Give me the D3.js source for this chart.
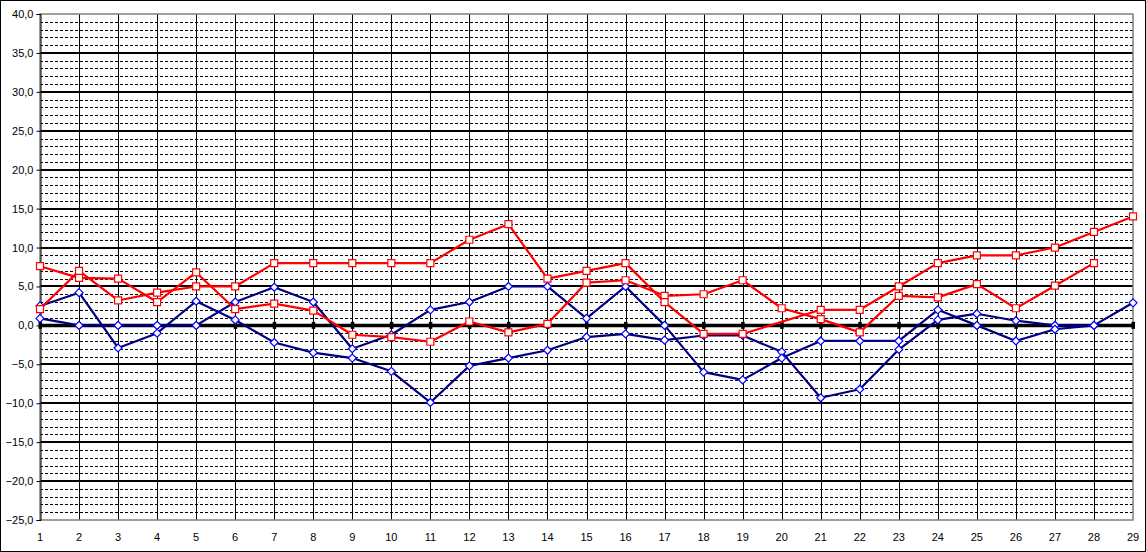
<!DOCTYPE html>
<html>
<head>
<meta charset="utf-8">
<script src="https://cdn.jsdelivr.net/npm/d3@7"></script>
<style>
  body { margin: 0; background: #fff; }
  text { font-family: "Liberation Sans", Arial, sans-serif; font-size: 11px; fill: #000; }
</style>
</head>
<body>
<div id="chart"></div>
<script>
// jours du mois
var jours = d3.range(1, 30);

// valeurs (null = pas de donnée)
var rougeHaut = [2.1, 7.0, 3.2, 4.2, 5.0, 5.0, 8.0, 8.0, 8.0, 8.0, 8.0, 11.0, 13.0, 6.0, 7.0,
                 8.0, 3.0, -1.1, -1.1, null, 2.0, 2.0, 5.0, 8.0, 9.0, 9.0, 10.0, 12.0, 14.0];
var rougeBas = [7.6, 6.1, 6.0, 3.0, 6.8, 2.1, 2.8, 1.9, -1.2, -1.5, -2.1, 0.5, -0.9, 0.2, 5.5,
                5.8, 3.8, 4.0, 5.8, 2.2, 0.8, -0.9, 3.8, 3.6, 5.3, 2.2, 5.1, 8.0, null];
var bleuA = [2.5, 4.2, -2.9, -1.0, 3.1, 0.7, -2.2, -3.5, -4.2, -5.9, -9.9, -5.2, -4.2, -3.2, -1.5,
             -1.1, -1.9, -1.3, -1.3, -3.4, -9.3, -8.2, -3.1, 0.7, 1.5, 0.6, 0.0, 0.0, null];
var bleuB = [0.9, 0.0, 0.0, 0.0, 0.0, 3.0, 4.9, 3.0, -3.0, -1.2, 2.0, 3.0, 5.0, 5.0, 0.9,
             5.0, 0.0, -6.0, -7.0, -4.2, -2.0, -2.0, -2.0, 2.0, 0.0, -2.0, -0.5, 0.0, 2.9];

var yMin = -25, yMax = 40;
var yTicks = d3.range(yMin, yMax + 1, 5);

var width = 1146,
    height = 552;
var zGauche = 40, zDroite = 1133, zHaut = 14, zBas = 520;

var svg = d3.select('#chart')
            .append('svg')
            .attr('width', width)
            .attr('height', height);

// cadre extérieur
svg.append('rect')
   .attr('x', 0.5).attr('y', 0.5)
   .attr('width', width - 1).attr('height', height - 1)
   .attr('fill', '#fff')
   .attr('stroke', '#000');

var x = d3.scaleLinear().domain([1, 29]).range([zGauche, zDroite]);
var y = d3.scaleLinear().domain([yMin, yMax]).range([zBas, zHaut]);

var grille = svg.append('g');

// lignes secondaires pointillées (chaque degré)
grille.selectAll('.mineur')
      .data(d3.range(yMin + 1, yMax).filter(function(v) { return v % 5 != 0; }))
      .enter().append('line')
      .attr('x1', zGauche).attr('x2', zDroite)
      .attr('y1', function(d) { return Math.round(y(d)) + 0.5; })
      .attr('y2', function(d) { return Math.round(y(d)) + 0.5; })
      .attr('stroke', '#000')
      .attr('stroke-width', 1)
      .attr('stroke-dasharray', '3,2');

// verticales
grille.selectAll('.vert')
      .data(jours.slice(1, -1))
      .enter().append('line')
      .attr('x1', function(d) { return Math.round(x(d)) + 0.5; })
      .attr('x2', function(d) { return Math.round(x(d)) + 0.5; })
      .attr('y1', zHaut).attr('y2', zBas)
      .attr('stroke', '#000')
      .attr('stroke-width', 1);

// lignes principales (tous les 5)
grille.selectAll('.majeur')
      .data(yTicks.filter(function(v) { return v != yMin && v != yMax && v != 0; }))
      .enter().append('line')
      .attr('x1', zGauche).attr('x2', zDroite)
      .attr('y1', function(d) { return Math.round(y(d)); })
      .attr('y2', function(d) { return Math.round(y(d)); })
      .attr('stroke', '#000')
      .attr('stroke-width', 2);

// bord de la zone de traçage
svg.append('rect')
   .attr('x', zGauche).attr('y', zHaut)
   .attr('width', zDroite - zGauche).attr('height', zBas - zHaut)
   .attr('fill', 'none')
   .attr('stroke', '#808080')
   .attr('stroke-width', 1.5);

// axe des ordonnées
var axeY = d3.axisLeft(y)
             .tickValues(yTicks)
             .tickSize(4)
             .tickPadding(3)
             .tickFormat(function(d) { return d3.format('.1f')(d).replace('.', ','); });

svg.append('g')
   .attr('transform', 'translate(' + (zGauche + 0.5) + ',0)')
   .call(axeY)
   .call(function(g) {
     g.selectAll('path, line').attr('stroke', '#000');
     g.selectAll('text').attr('fill', '#000').style('font-size', '11px')
      .style('font-family', '"Liberation Sans", Arial, sans-serif');
   });

// ligne du zéro
svg.append('line')
   .attr('x1', zGauche).attr('x2', zDroite)
   .attr('y1', y(0)).attr('y2', y(0))
   .attr('stroke', '#000')
   .attr('stroke-width', 3.5);

// graduations sur la ligne du zéro
svg.selectAll('.grad')
   .data(jours)
   .enter().append('rect')
   .attr('x', function(d) { return x(d) - 1.5; })
   .attr('y', y(0) - 3.5)
   .attr('width', 3.5).attr('height', 7)
   .attr('fill', '#000');

// étiquettes des jours en bas
svg.selectAll('.jour')
   .data(jours)
   .enter().append('text')
   .attr('x', function(d) { return x(d); })
   .attr('y', 541)
   .attr('text-anchor', 'middle')
   .text(function(d) { return d; });

var series = [
  { valeurs: bleuA, couleur: '#000080', bord: '#0000ff', forme: 'losange' },
  { valeurs: bleuB, couleur: '#000080', bord: '#0000ff', forme: 'losange' },
  { valeurs: rougeBas, couleur: '#ff0000', bord: '#ff0000', forme: 'carre' },
  { valeurs: rougeHaut, couleur: '#ff0000', bord: '#ff0000', forme: 'carre' }
];

var ligne = d3.line()
              .x(function(d) { return x(d.jour); })
              .y(function(d) { return y(d.v); });

series.forEach(function(s) {
  var pts = jours.map(function(j, i) { return { jour: j, v: s.valeurs[i] }; })
                 .filter(function(p) { return p.v != null; });

  svg.append('path')
     .datum(pts)
     .attr('d', ligne)
     .attr('fill', 'none')
     .attr('stroke', s.couleur)
     .attr('stroke-width', 2.2)
     .attr('stroke-linejoin', 'round');

  var marques = svg.append('g').selectAll('path')
     .data(pts)
     .enter().append('path')
     .attr('transform', function(d) { return 'translate(' + x(d.jour) + ',' + y(d.v) + ')'; })
     .attr('fill', '#fff')
     .attr('stroke', s.bord)
     .attr('stroke-width', 1.2);

  if (s.forme == 'carre') {
    marques.attr('d', 'M-3.5,-3.5H3.5V3.5H-3.5Z');
  } else {
    marques.attr('d', 'M0,-4L4,0L0,4L-4,0Z');
  }
});
</script>
</body>
</html>
